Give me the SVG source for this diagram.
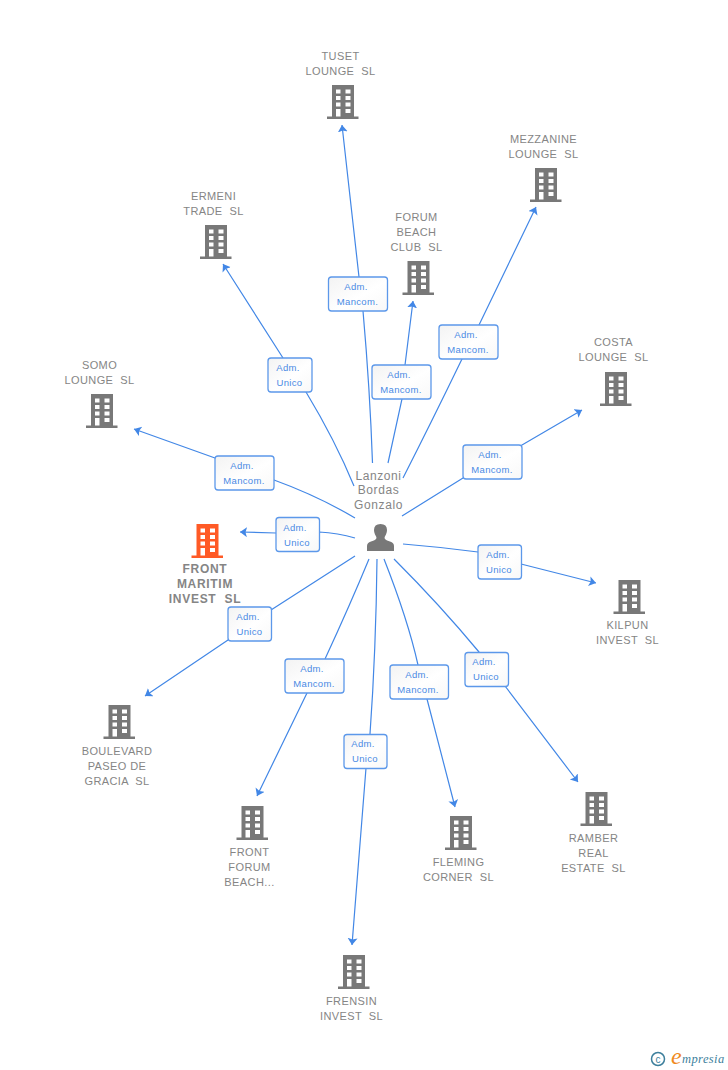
<svg xmlns="http://www.w3.org/2000/svg" width="728" height="1070" viewBox="0 0 728 1070">
<style>
text{font-family:"Liberation Sans",Arial,sans-serif;white-space:pre}
.n{font-size:11px;fill:#858585;text-anchor:middle;letter-spacing:.4px}
.b{font-weight:bold;font-size:12px;letter-spacing:.7px}
.p{font-size:12px;fill:#858585;text-anchor:middle;letter-spacing:.6px}
.l{font-size:9.5px;fill:#4a8ae4;text-anchor:middle;letter-spacing:.35px}
.r{fill:url(#g);stroke:#5c98ea;stroke-width:1.3}
.c{fill:none;stroke:#4287e6;stroke-width:1.2}
.a{marker-end:url(#ah)}
.i{fill:#787878}
.o{fill:#ff5a26}
</style>
<defs>
<linearGradient id="g" x1="0" y1="0" x2="1" y2="1"><stop offset="0" stop-color="#f3f3f3"/><stop offset=".55" stop-color="#fff"/><stop offset="1" stop-color="#f8f8f8"/></linearGradient>
<marker id="ah" markerUnits="userSpaceOnUse" markerWidth="12" markerHeight="12" refX="7" refY="5" orient="auto"><path d="M0 0L7 5L0 10L1.500 5Z" fill="#4287e6"/></marker>
<path id="bld" fill-rule="evenodd" d="M-11 0H11V31.500H15.500V34H-16V31.500H-11ZM-7 4.500V8.500H-2.500V4.500ZM2.500 4.500V8.500H7.500V4.500ZM-7 11V15H-2.500V11ZM2.500 11V15H7.500V11ZM-7 17.500V21.500H-2.500V17.500ZM2.500 17.500V21.500H7.500V17.500ZM-7 24V31.500H-2.500V24ZM2.500 24V28H7.500V24Z"/>
</defs>
<g id="connectors">
<path class="c a" d="M372.500 463Q370 390 363 311L359 277L342 125"/>
<path class="c a" d="M354 486Q335 440 306 392L283 358L223 264"/>
<path class="c a" d="M388 463L402 399L405 365L413 301"/>
<path class="c a" d="M403 478Q430 425 462 359L479 325L536 207"/>
<path class="c a" d="M402 516L463 478L522 445L582 410"/>
<path class="c a" d="M355 518Q318 496 274 480L215 458L134 429"/>
<path class="c a" d="M355 538Q338 533 319 532L276 533L240 532"/>
<path class="c a" d="M403 544Q440 547 478 552L521 564L596 583"/>
<path class="c a" d="M355 556L271 610L228 640L145 696"/>
<path class="c a" d="M369 559Q350 605 325 659L307 693L257 796"/>
<path class="c a" d="M377 559Q376 650 370 734L366 768L352 945"/>
<path class="c a" d="M384 559Q408 620 418 665L427 699L455 807"/>
<path class="c a" d="M394 559Q440 605 479 652L505 686L578 782"/>
</g>
<g id="edge-labels">
<g><rect class="r" x="328.500" y="277" width="59" height="34" rx="3"/><text class="l" x="356" y="290">Adm.</text><text class="l" x="357.500" y="305">Mancom.</text></g>
<g><rect class="r" x="268" y="358" width="44" height="34" rx="3"/><text class="l" x="288" y="371">Adm.</text><text class="l" x="289.500" y="386">Unico</text></g>
<g><rect class="r" x="372" y="365" width="59" height="34" rx="3"/><text class="l" x="399" y="378">Adm.</text><text class="l" x="401" y="393">Mancom.</text></g>
<g><rect class="r" x="439" y="325" width="59" height="34" rx="3"/><text class="l" x="466" y="338">Adm.</text><text class="l" x="468" y="353">Mancom.</text></g>
<g><rect class="r" x="463" y="445" width="59" height="34" rx="3"/><text class="l" x="490" y="458">Adm.</text><text class="l" x="492" y="473">Mancom.</text></g>
<g><rect class="r" x="215" y="456" width="59" height="34" rx="3"/><text class="l" x="242" y="469">Adm.</text><text class="l" x="244" y="484">Mancom.</text></g>
<g><rect class="r" x="276" y="517.500" width="43.500" height="34" rx="3"/><text class="l" x="295" y="531">Adm.</text><text class="l" x="297" y="546">Unico</text></g>
<g><rect class="r" x="478" y="545" width="43.500" height="34" rx="3"/><text class="l" x="498" y="558">Adm.</text><text class="l" x="499" y="573">Unico</text></g>
<g><rect class="r" x="228" y="607" width="43.500" height="34" rx="3"/><text class="l" x="248" y="620">Adm.</text><text class="l" x="249.500" y="635">Unico</text></g>
<g><rect class="r" x="285" y="659" width="59" height="34" rx="3"/><text class="l" x="312" y="672">Adm.</text><text class="l" x="314" y="687">Mancom.</text></g>
<g><rect class="r" x="344" y="734.500" width="43" height="34" rx="3"/><text class="l" x="363" y="747">Adm.</text><text class="l" x="365" y="762">Unico</text></g>
<g><rect class="r" x="390" y="665" width="58.500" height="34" rx="3"/><text class="l" x="417" y="678">Adm.</text><text class="l" x="418" y="693">Mancom.</text></g>
<g><rect class="r" x="465" y="652.500" width="43.500" height="34" rx="3"/><text class="l" x="484" y="665">Adm.</text><text class="l" x="486" y="680">Unico</text></g>
</g>
<g id="person">
<text class="p" x="378.500" y="480">Lanzoni</text><text class="p" x="378.500" y="494">Bordas</text><text class="p" x="378.500" y="509">Gonzalo</text>
<path class="i" d="M367 551V546Q367 542.500 371 541.500Q376 540 376.500 538Q376.500 536.500 375 534.500Q374 532.500 374 530Q374 524 380.500 524Q387 524 387 530Q387 532.500 386 534.500Q384.500 536.500 384.500 538Q385 540 390 541.500Q394 542.500 394 546V551Z"/>
</g>
<g id="tuset"><use href="#bld" class="i" x="343" y="85"/><text class="n" x="340.500" y="60">TUSET</text><text class="n" x="340.500" y="75">LOUNGE  SL</text></g>
<g id="mezzanine"><use href="#bld" class="i" x="546" y="168"/><text class="n" x="543.500" y="143">MEZZANINE</text><text class="n" x="543.500" y="158">LOUNGE  SL</text></g>
<g id="ermeni"><use href="#bld" class="i" x="216" y="225"/><text class="n" x="213.500" y="200">ERMENI</text><text class="n" x="213.500" y="215">TRADE  SL</text></g>
<g id="forum"><use href="#bld" class="i" x="418.500" y="261"/><text class="n" x="416.500" y="221">FORUM</text><text class="n" x="416.500" y="236">BEACH</text><text class="n" x="416.500" y="251">CLUB  SL</text></g>
<g id="costa"><use href="#bld" class="i" x="616" y="372"/><text class="n" x="613.500" y="346">COSTA</text><text class="n" x="613.500" y="361">LOUNGE  SL</text></g>
<g id="somo"><use href="#bld" class="i" x="102" y="394"/><text class="n" x="99.500" y="369">SOMO</text><text class="n" x="99.500" y="384">LOUNGE  SL</text></g>
<g id="front-maritim"><use href="#bld" class="o" x="207.500" y="524"/><text class="n b" x="205" y="573">FRONT</text><text class="n b" x="205" y="588">MARITIM</text><text class="n b" x="205" y="603">INVEST  SL</text></g>
<g id="kilpun"><use href="#bld" class="i" x="629.500" y="580"/><text class="n" x="627.500" y="629">KILPUN</text><text class="n" x="627.500" y="644">INVEST  SL</text></g>
<g id="boulevard"><use href="#bld" class="i" x="119.500" y="705"/><text class="n" x="117" y="755">BOULEVARD</text><text class="n" x="117" y="770">PASEO DE</text><text class="n" x="117" y="785">GRACIA  SL</text></g>
<g id="front-forum"><use href="#bld" class="i" x="252.500" y="806"/><text class="n" x="249.500" y="856">FRONT</text><text class="n" x="249.500" y="871">FORUM</text><text class="n" x="249.500" y="886">BEACH...</text></g>
<g id="fleming"><use href="#bld" class="i" x="461" y="816"/><text class="n" x="458.500" y="866">FLEMING</text><text class="n" x="458.500" y="881">CORNER  SL</text></g>
<g id="ramber"><use href="#bld" class="i" x="596.500" y="792"/><text class="n" x="593.500" y="842">RAMBER</text><text class="n" x="593.500" y="857">REAL</text><text class="n" x="593.500" y="872">ESTATE  SL</text></g>
<g id="frensin"><use href="#bld" class="i" x="354" y="955"/><text class="n" x="351.500" y="1005">FRENSIN</text><text class="n" x="351.500" y="1020">INVEST  SL</text></g>
<g id="logo">
<circle cx="658" cy="1059" r="6.500" fill="none" stroke="#3d7f9c" stroke-width="1.500"/>
<text x="658" y="1062.500" font-size="10" fill="#3d7f9c" text-anchor="middle">c</text>
<text x="671" y="1064" font-size="24" font-style="italic" fill="#f08a1d" style="font-family:'Liberation Serif',serif">e</text>
<text x="682" y="1063" font-size="12.500" font-style="italic" fill="#3d7f9c" style="font-family:'Liberation Serif',serif;letter-spacing:.4px">mpresia</text>
</g>
</svg>
